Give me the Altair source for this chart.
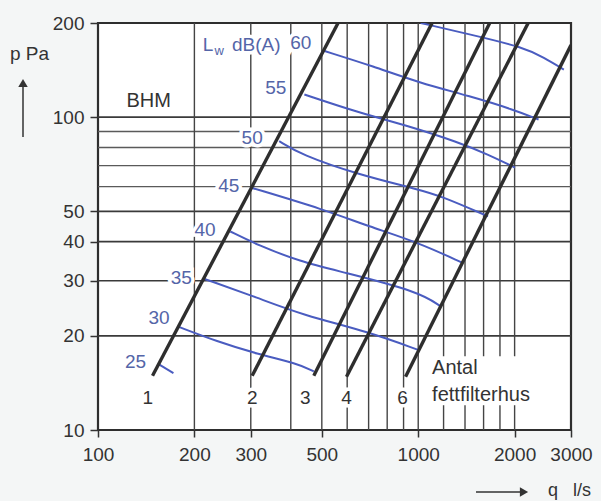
import altair as alt
import pandas as pd

FONT = "Liberation Sans"
DARK = "#333333"
BLUE_LINE = "#4a5cc0"
BLUE_TEXT = "#5465a8"

# ---- axes ----
x_ticks = [100, 200, 300, 500, 1000, 2000, 3000]
y_ticks = [10, 20, 30, 40, 50, 100, 200]

# ---- grid ----
h_grid_major = [20, 30, 40, 50, 100]
h_grid_minor = [60, 70, 80, 90]
v_grid = [200, 300, 400, 500, 600, 700, 800, 900, 1000, 1200, 1400, 1600, 1800, 2000]
v_grid_gap = [1200, 1400, 1600, 1800, 2000]   # interrupted by the "Antal fettfilterhus" note
gap_p = [12.0, 17.2]

# ---- filter-housing lines (number of housings) ----
housing_n = [1, 2, 3, 4, 6]
housing_q0 = [148, 303, 472, 597, 913]
housing_p0 = [14.9, 14.9, 14.9, 14.8, 14.8]
housing_q1 = [562, 1105, 1672, 2205, 3000]
housing_p1 = [200, 200, 200, 200, 170]

# ---- sound power curves Lw dB(A) ----
lw25_q = [155, 172]
lw25_p = [16.2, 15.2]
lw30_q = [178, 235, 314, 420, 472]
lw30_p = [21.4, 19.2, 17.5, 16.3, 15.4]
lw35_q = [215, 314, 436, 699, 1005]
lw35_p = [30.4, 26.5, 23.3, 20.6, 18.0]
lw40_q = [259, 314, 429, 574, 1005, 1178]
lw40_p = [43.1, 39.1, 34.5, 32.1, 27.7, 24.8]
lw45_q = [303, 510, 699, 1005, 1377]
lw45_p = [59.4, 50.6, 44.8, 39.7, 34.2]
lw50_q = [368, 429, 650, 1005, 1188, 1652]
lw50_p = [83.8, 76.0, 65.5, 58.7, 55.8, 48.2]
lw55_q = [441, 650, 901, 1345, 1648, 2006]
lw55_p = [118.2, 103.5, 94.8, 83.0, 76.0, 69.0]
lw60_q = [510, 725, 1005, 1446, 1981, 2376]
lw60_p = [162.7, 145.3, 128.9, 116.8, 105.8, 98.3]
lw65_q = [1018, 1446, 2149, 2465, 2850]
lw65_p = [200, 184, 167, 155, 142]

# ---- labels ----
db_labels = ["25", "30", "35", "40", "45", "50", "55", "60"]
db_label_q = [131, 155, 182, 216, 256, 303, 359, 430]
db_label_p = [16.5, 22.8, 30.7, 43.7, 60.1, 85.9, 124.2, 172]

n_labels = ["1", "2", "3", "4", "6"]
n_label_q = [143, 303, 444, 597, 893]
n_label_p = [12.7, 12.7, 12.7, 12.7, 12.7]

note_labels = ["Antal", "fettfilterhus"]
note_q = [1105, 1105]
note_p = [15.8, 12.95]

bhm_label = ["BHM"]
bhm_q = [144]
bhm_p = [112.5]

lw_title = ["L", "w", "dB(A)"]
lw_title_q = [220.7, 238.9, 262]
lw_title_p = [170.3, 162.5, 170.3]
lw_title_size = [19, 13, 19]
lw_title_align = ["center", "center", "left"]

# ---- build tables ----
vg_rows = []
for q in v_grid:
    if q in v_grid_gap:
        vg_rows.append({"q": q, "p": 10, "p2": gap_p[0]})
        vg_rows.append({"q": q, "p": gap_p[1], "p2": 200})
    else:
        vg_rows.append({"q": q, "p": 10, "p2": 200})
vgrid_df = pd.DataFrame(vg_rows)

h_rows = []
for n, q0, p0, q1, p1 in zip(housing_n, housing_q0, housing_p0, housing_q1, housing_p1):
    h_rows.append({"n": n, "q": q0, "p": p0})
    h_rows.append({"n": n, "q": q1, "p": p1})
housing_df = pd.DataFrame(h_rows)

curves = {
    25: (lw25_q, lw25_p), 30: (lw30_q, lw30_p), 35: (lw35_q, lw35_p),
    40: (lw40_q, lw40_p), 45: (lw45_q, lw45_p), 50: (lw50_q, lw50_p),
    55: (lw55_q, lw55_p), 60: (lw60_q, lw60_p), 65: (lw65_q, lw65_p),
}
c_rows = []
for lvl, (qs, ps) in curves.items():
    for q, p in zip(qs, ps):
        c_rows.append({"level": lvl, "q": q, "p": p})
curve_df = pd.DataFrame(c_rows)

db_df = pd.DataFrame({"label": db_labels, "q": db_label_q, "p": db_label_p})
n_df = pd.DataFrame({"label": n_labels, "q": n_label_q, "p": n_label_p})
note_df = pd.DataFrame({"label": note_labels, "q": note_q, "p": note_p})
bhm_df = pd.DataFrame({"label": bhm_label, "q": bhm_q, "p": bhm_p})
lwt_df = pd.DataFrame({"label": lw_title, "q": lw_title_q, "p": lw_title_p})

# ---- encodings ----
xscale = alt.Scale(type="log", domain=[100, 3000], nice=False)
yscale = alt.Scale(type="log", domain=[10, 200], nice=False)
xaxis = alt.Axis(values=x_ticks, format="d", grid=False, domain=False, tickSize=7,
                 tickWidth=1.5, tickColor=DARK, labelFontSize=19, labelFont=FONT,
                 labelColor=DARK, labelPadding=8, labelFlush=False, labelOverlap=False,
                 title=None)
yaxis = alt.Axis(values=y_ticks, format="d", grid=False, domain=False, tickSize=8,
                 tickWidth=1.5, tickColor=DARK, labelFontSize=19, labelFont=FONT,
                 labelColor=DARK, labelPadding=6, labelOverlap=False, title=None)


def X():
    return alt.X("q:Q", scale=xscale, axis=xaxis)


def Y():
    return alt.Y("p:Q", scale=yscale, axis=yaxis)


hmaj = alt.Chart(pd.DataFrame({"p": h_grid_major})).mark_rule(
    color="#3a3a3a", strokeWidth=1.6).encode(y=Y())
hmin = alt.Chart(pd.DataFrame({"p": h_grid_minor})).mark_rule(
    color="#5a5a5a", strokeWidth=1.3).encode(y=Y())
vgrid = alt.Chart(vgrid_df).mark_rule(color="#444444", strokeWidth=1.4).encode(
    x=X(), y=Y(), y2="p2:Q")

housing = alt.Chart(housing_df).mark_line(color="#2e2e2e", strokeWidth=3.4, clip=True).encode(
    x=X(), y=Y(), detail="n:N")
curves_l = alt.Chart(curve_df).mark_line(color=BLUE_LINE, strokeWidth=2, clip=True,
                                         interpolate="basis").encode(
    x=X(), y=Y(), detail="level:N")


def halo(df, size=19, align="center"):
    return alt.Chart(df).mark_text(font=FONT, fontSize=size, align=align, baseline="middle",
                                   fill="white", stroke="white", strokeWidth=7).encode(
        x=X(), y=Y(), text="label:N")


def txt(df, color, size=19, align="center"):
    return alt.Chart(df).mark_text(font=FONT, fontSize=size, align=align, baseline="middle",
                                   color=color).encode(x=X(), y=Y(), text="label:N")


db_h = halo(db_df)
db_t = txt(db_df, BLUE_TEXT)
n_h = halo(n_df)
n_t = txt(n_df, DARK)
note_t = txt(note_df, DARK, size=20, align="left")
bhm_t = txt(bhm_df, DARK, size=20)

lw_parts = []
for i in range(len(lw_title)):
    sub = lwt_df.iloc[[i]]
    lw_parts.append(halo(sub, size=lw_title_size[i], align=lw_title_align[i]))
for i in range(len(lw_title)):
    sub = lwt_df.iloc[[i]]
    lw_parts.append(txt(sub, BLUE_TEXT, size=lw_title_size[i], align=lw_title_align[i]))

# axis titles with arrows (decoration outside the plot)
p_title = alt.Chart(pd.DataFrame({"t": ["p Pa"]})).mark_text(
    font=FONT, fontSize=19, align="left", baseline="alphabetic", color=DARK).encode(
    x=alt.value(-88), y=alt.value(37), text="t:N")
p_arrow = alt.Chart(pd.DataFrame({"t": [0]})).mark_rule(color=DARK, strokeWidth=1.5).encode(
    x=alt.value(-75), y=alt.value(60), y2=alt.value(114))
p_head = alt.Chart(pd.DataFrame({"t": [0]})).mark_point(
    shape="triangle-up", filled=True, size=90, color=DARK, opacity=1).encode(
    x=alt.value(-75), y=alt.value(60))
q_title = alt.Chart(pd.DataFrame({"t": ["q\u00a0\u00a0\u00a0l/s"]})).mark_text(
    font=FONT, fontSize=18, align="left", baseline="alphabetic", color=DARK).encode(
    x=alt.value(450), y=alt.value(473), text="t:N")
q_arrow = alt.Chart(pd.DataFrame({"t": [0]})).mark_rule(color=DARK, strokeWidth=1.5).encode(
    x=alt.value(378), x2=alt.value(424), y=alt.value(469))
q_head = alt.Chart(pd.DataFrame({"t": [0]})).mark_point(
    shape="triangle-right", filled=True, size=90, color=DARK, opacity=1).encode(
    x=alt.value(426), y=alt.value(469))

chart = alt.layer(
    hmaj, hmin, vgrid, curves_l, housing,
    db_h, n_h, *lw_parts[:3],
    db_t, n_t, note_t, bhm_t, *lw_parts[3:],
    p_title, p_arrow, p_head, q_title, q_arrow, q_head,
).properties(
    width=473, height=407,
    autosize=alt.AutoSizeParams(type="none"),
    padding={"left": 98, "top": 23, "right": 30, "bottom": 71},
    background="#f4f6f6",
).configure_view(
    fill="white", stroke="#2e2e2e", strokeWidth=2.2
)

chart.save("out.html", embed_options={"renderer": "svg", "actions": False})
